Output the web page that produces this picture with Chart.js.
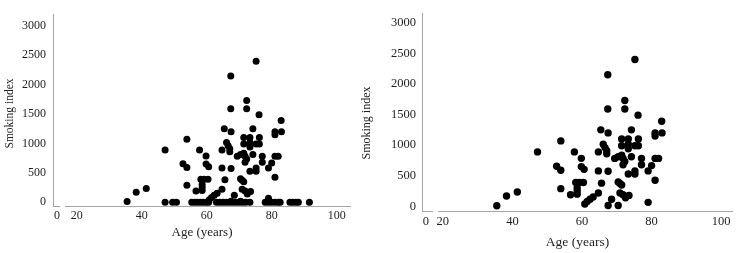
<!DOCTYPE html>
<html>
<head>
<meta charset="utf-8">
<script src="https://cdn.jsdelivr.net/npm/chart.js@4.4.1/dist/chart.umd.min.js"></script>
<style>
  html, body { margin: 0; padding: 0; background: #fff; }
  #wrap { position: relative; width: 738px; height: 253px; overflow: hidden; }
  #allChart { position: absolute; left: 0; top: 0; }
  #smokerChart { position: absolute; left: 358px; top: 0; }
</style>
</head>
<body>
<div id="wrap">
  <canvas id="allChart" width="358" height="253"></canvas>
  <canvas id="smokerChart" width="380" height="253"></canvas>
</div>
<script>
// Smokers: age and smoking index (both panels)
const smokerAge = [
  35.5, 38.3, 41.4, 47.2, 52.7, 53.9, 53.9, 53.9, 56.7, 57.8,
  58.2, 59.2, 60.4, 58.6, 58.6, 58.6, 59.8, 59.8, 60.6, 60.8,
  61.5, 62.3, 63.2, 64.7, 64.7, 64.7, 65.4, 65.6, 66.1, 66.6,
  67.1, 67.1, 67.4, 67.4, 67.5, 67.5, 67.5, 68.5, 69.4, 70.4,
  71.4, 71.8, 72.3, 71.8, 70.4, 70.9, 71.4, 70.4, 70.9, 71.8,
  72.5, 73.5, 71.4, 73.3, 76.2, 71.4, 73.3, 73.3, 75.2, 76.2,
  72.3, 72.3, 74.2, 75.2, 76.1, 74.2, 77.1, 77.1, 75.2, 75.2,
  73.3, 80, 79, 79, 81, 81, 83, 82.9, 81, 82, 81
];
const smokerIndex = [
  10, 170, 235, 890, 655, 590, 1070, 290, 190, 890,
  390, 390, 390, 300, 250, 200, 785, 650, 605, 40,
  80, 118, 154, 890, 580, 220, 1250, 380, 1015, 960,
  910, 860, 2150, 1590, 1200, 575, 15, 118, 784, 810,
  835, 784, 733, 681, 400, 374, 349, 15, 220, 190,
  140, 180, 1100, 1100, 1100, 990, 1015, 940, 990, 990,
  1730, 1590, 1250, 2400, 1490, 810, 784, 681, 580, 528,
  528, 666, 580, 66, 1200, 1150, 1200, 1390, 784, 784, 426
];
// Non-smokers (smoking index 0), left panel only
const nonSmokerAge = [
  47.2, 49.5, 50.7, 55.4, 56.3, 57.2, 58.1, 59, 59.9, 60.6,
  63, 64, 65, 66, 67, 68, 69, 70, 71, 72, 73.3,
  78, 79, 80, 81, 82, 82.6, 85.6, 86.5, 87.4, 88.2, 91.6
];
const nonSmokerIndex = nonSmokerAge.map(() => 0);

const xTicks = [0, 20, 40, 60, 80, 100];
const yTicks = [0, 500, 1000, 1500, 2000, 2500, 3000];

const serif = "'Liberation Serif', 'Times New Roman', serif";
const axisColor = '#a6a6a6';
const textColor = '#1e1e1e';

function toPoints(ages, values) {
    return ages.map((a, i) => ({ x: a, y: values[i] }));
}

// draws the broken x axis line and the y axis title
const axisExtras = {
    id: 'axisExtras',
    afterDraw(chart, args, o) {
        const { ctx, chartArea: a, scales: { x } } = chart;
        ctx.save();
        ctx.strokeStyle = axisColor;
        ctx.lineWidth = 1;
        const y = Math.round(a.bottom) + 0.5;
        ctx.beginPath();
        ctx.moveTo(a.left, y);
        ctx.lineTo(x.getPixelForValue(o.gapFrom), y);
        ctx.moveTo(x.getPixelForValue(o.gapTo), y);
        ctx.lineTo(a.right, y);
        ctx.stroke();

        ctx.translate(o.titleX, o.titleY);
        ctx.rotate(-Math.PI / 2);
        ctx.font = o.titleSize + 'px ' + serif;
        ctx.fillStyle = textColor;
        ctx.textAlign = 'center';
        ctx.textBaseline = 'middle';
        ctx.fillText('Smoking index', 0, 0);
        ctx.restore();
    }
};

function makeChart(id, points, c) {
    const ctx = document.getElementById(id).getContext('2d');
    return new Chart(ctx, {
        type: 'scatter',
        data: {
            datasets: [{
                data: points,
                backgroundColor: '#000',
                borderWidth: 0,
                pointRadius: c.radius,
                pointHoverRadius: c.radius
            }]
        },
        plugins: [axisExtras],
        options: {
            responsive: false,
            animation: false,
            layout: { padding: { top: c.padTop, right: c.padRight, left: 0, bottom: 0 } },
            plugins: {
                legend: { display: false },
                tooltip: { enabled: false },
                axisExtras: {
                    gapFrom: c.gapFrom, gapTo: c.gapTo,
                    titleX: c.yTitleX, titleY: c.yTitleY, titleSize: c.yTitleSize
                }
            },
            scales: {
                x: {
                    type: 'linear',
                    min: c.xMin,
                    max: c.xMax,
                    grid: { display: false, drawTicks: false },
                    border: { display: false },
                    afterBuildTicks: (s) => {
                        s.ticks = xTicks.map(v => ({ value: v === 0 ? c.zeroAt : v }));
                    },
                    afterFit: (s) => { s.height = c.xHeight; },
                    ticks: {
                        autoSkip: false,
                        maxRotation: 0,
                        padding: c.xTickPad,
                        color: textColor,
                        font: { family: serif, size: c.tickSize },
                        callback: (v, i) => String(xTicks[i])
                    },
                    title: {
                        display: true,
                        text: 'Age (years)',
                        color: textColor,
                        font: { family: serif, size: c.xTitleSize },
                        padding: { top: 0, bottom: c.xTitlePad }
                    }
                },
                y: {
                    type: 'linear',
                    min: c.yMin,
                    max: c.yMax,
                    grid: { display: false, drawTicks: false },
                    border: { display: true, color: axisColor, width: 1 },
                    afterBuildTicks: (s) => {
                        s.ticks = yTicks.map(v => ({ value: v }));
                    },
                    afterFit: (s) => { s.width = c.yWidth; },
                    ticks: {
                        autoSkip: false,
                        padding: c.yTickPad,
                        color: textColor,
                        font: { family: serif, size: c.tickSize },
                        callback: (v) => String(v)
                    }
                }
            }
        }
    });
}

// All patients
makeChart('allChart',
    toPoints(smokerAge, smokerIndex).concat(toPoints(nonSmokerAge, nonSmokerIndex)), {
    radius: 3.5,
    xMin: 12.7, xMax: 104.4, zeroAt: 13.9, gapFrom: 15.0, gapTo: 16.4,
    yMin: -65, yMax: 3200,
    padTop: 3.5, padRight: 7, yWidth: 53, xHeight: 47,
    tickSize: 12, xTickPad: 3, yTickPad: 7,
    xTitleSize: 13, xTitlePad: 12.5,
    yTitleX: 10, yTitleY: 113.5, yTitleSize: 11.5
});

// Smokers only
makeChart('smokerChart', toPoints(smokerAge, smokerIndex), {
    radius: 3.7,
    xMin: 14.0, xMax: 103.4, zeroAt: 15.1, gapFrom: 17.2, gapTo: 18.6,
    yMin: -75, yMax: 3150,
    padTop: 2, padRight: 5, yWidth: 64, xHeight: 42,
    tickSize: 12.5, xTickPad: 3.5, yTickPad: 6,
    xTitleSize: 13.5, xTitlePad: 2.2,
    yTitleX: 8.5, yTitleY: 123, yTitleSize: 12
});
</script>
</body>
</html>
